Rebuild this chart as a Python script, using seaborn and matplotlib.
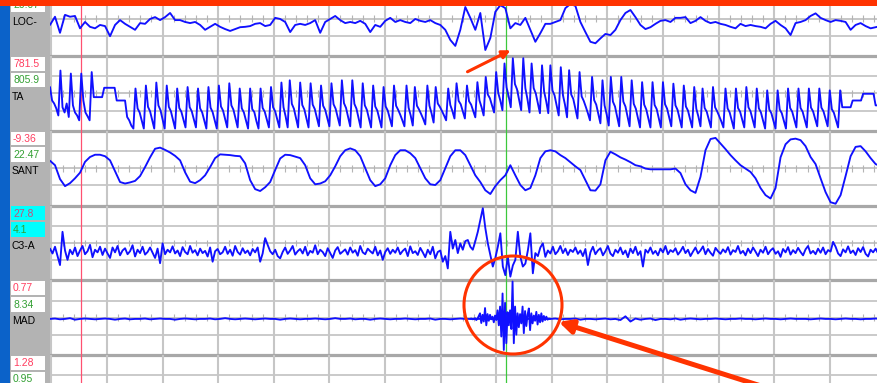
import numpy as np
import pandas as pd
import matplotlib.pyplot as plt
import seaborn as sns
from matplotlib.patches import Rectangle, Ellipse

sns.set_theme(style='white')
plt.rcParams['font.family'] = ['Liberation Sans', 'DejaVu Sans']

# Channel names and the two calibration numbers shown beside each trace
channels = ['LOC-', 'TA', 'SANT', 'C3-A', 'MAD', '']
upper_vals = ['', '781.5', '-9.36', '27.8', '0.77', '1.28']
lower_vals = ['20.07', '805.9', '22.47', '4.1', '8.34', '0.95']

# page time in seconds (grid every 1 s, small ticks every 0.2 s)
t_start = -0.025
t_end = 14.85
red_cursor = 0.53
green_cursor = 8.18

# traces in display units: +-100 = half a channel row
loc_dt = 0.09
loc = [-17, 5, -38, 10, 5, 7, -26, -9, -22, -26,
       -17, -20, -47, -17, -4, -14, -22, -30, -12, -14,
       -1, 4, -4, 4, 15, -4, -4, -9, -12, -9,
       -17, -30, -22, -14, -22, -28, -33, -28, -23, -22,
       -20, -14, -12, -20, -17, 2, -1, -9, -36, -17,
       -14, -17, -12, -4, -38, -9, -1, 7, -4, -12,
       -9, -12, -6, -14, -36, -17, -22, -6, 2, -9,
       -4, -9, -12, -1, -6, -9, -4, -12, -17, -30,
       -57, -73, -30, 31, 2, -30, 15, -84, -52, 18,
       36, 28, -26, -12, -17, 2, -30, -62, -39, -14,
       -14, -9, -4, 28, 39, 34, -9, -36, -62, -66,
       -53, -41, -44, -30, -4, 15, 23, 4, -17, -28,
       -23, -14, -6, -4, -9, 2, 2, 4, -12, -6,
       4, -6, -12, -9, -14, -17, -22, -26, -14, -20,
       -17, -20, -22, -26, -14, -6, -17, -26, -44, -12,
       -9, -4, 7, 14, 2, -4, -9, -4, -6, -9,
       -30, -17, -12, -20, -26, -23, -20]

ta_dt = 0.0375
ta = [17, -19, -27, -40, -59, 61, -37, -51, -27, -63,
      53, -32, -51, -59, -72, 53, -19, -51, -61, -72,
      57, -10, -10, -10, -10, -10, 15, 15, 15, 15, 15, 15,
      -19, -19, -19, -19, -19, -63, -72, -86, -94,
      13, -40, -51, -73, -94, 21, -36, -48, -71, -94,
      29, -32, -45, -69, -94, 21, -36, -48, -71, -94,
      13, -39, -49, -70, -91, 17, -37, -48, -69, -91,
      13, -40, -51, -73, -94, 17, -38, -50, -72, -94,
      21, -35, -46, -69, -91, 27, -32, -44, -67, -91,
      13, -40, -51, -73, -94, 13, -42, -50, -74, -94,
      13, -39, -49, -70, -91, 17, -37, -48, -69, -91,
      29, -37, -61, -91, 35, -28, -41, -66, -91,
      29, -31, -43, -67, -91, 27, -30, -42, -65, -88,
      21, -33, -44, -66, -88, 27, -29, -41, -63, -86,
      35, -26, -39, -63, -88, 35, -28, -41, -66, -91,
      27, -32, -44, -67, -91, 21, -35, -46, -69, -91,
      17, -35, -46, -67, -88, 21, -33, -44, -57, -72, -88,
      21, -38, -59, -86, 17, -33, -43, -55, -68, -83,
      21, -33, -53, -78, 17, -27, -36, -47, -59, -72,
      13, -31, -47, -67, 27, -20, -29, -48, -67,
      21, -21, -30, -47, -64, 30, -19, -37, -59,
      44, -3, -13, -32, -51, 57, 1, -19, -45,
      80, 16, -8, -37, 94, 25, 11, -17, -45,
      94, 14, -15, -51, 80, 14, 0, -26, -53,
      75, 5, -21, -53, 75, 8, -5, -32, -59,
      70, -4, -30, -64, 62, -3, -15, -41, -67,
      57, -8, -20, -36, -53, -72, 44, -18, -30, -55, -80,
      35, -32, -56, -86, 44, -22, -35, -62, -88,
      44, -22, -35, -62, -88, 35, -28, -41, -66, -91,
      30, -30, -43, -67, -91, 30, -31, -42, -67, -91,
      30, -29, -41, -64, -88, 26, -32, -44, -68, -91,
      21, -35, -46, -69, -91, 17, -41, -62, -88,
      13, -39, -49, -70, -91, 17, -37, -48, -61, -75, -91,
      13, -40, -51, -73, -94, 13, -39, -49, -70, -91,
      17, -37, -48, -69, -91, 13, -40, -51, -73, -94,
      8, -43, -53, -74, -94, 8, -43, -53, -74, -94,
      13, -39, -49, -70, -91, 13, -39, -49, -70, -91,
      13, -38, -48, -68, -88, 13, -38, -48, -68, -88,
      8, -42, -52, -71, -91,
      8, -37, -37, -37, -37, -37, -19, -19, -19, -19, -19,
      -1, -1, -1, -1, -1, -1, -32, -32, -32]

sant_dt = 0.09
sant = [20, 8, -29, -48, -40, -27, -12, 17, 30, 36,
        36, 32, 21, -8, -37, -41, -38, -34, -21, 3,
        29, 52, 55, 49, 42, 33, 21, -11, -36, -40,
        -32, -19, 3, 27, 37, 36, 35, 33, 32, 13,
        -32, -56, -61, -51, -37, -5, 26, 36, 35, 31,
        27, 8, -27, -43, -41, -35, -19, 5, 32, 48,
        53, 48, 32, 0, -32, -48, -43, -27, 8, 35,
        48, 48, 40, 27, 0, -27, -43, -45, -32, 0,
        32, 48, 48, 35, 8, -19, -37, -59, -69, -48,
        -32, -19, 8, -19, -45, -59, -53, -19, 27, 45,
        48, 45, 35, 27, 16, 5, -5, -32, -59, -60,
        -43, 21, 44, 37, 29, 23, 16, 8, 5, -1,
        -3, -3, -3, -3, -3, -1, -13, -43, -59, -66,
        -23, 48, 78, 81, 66, 51, 35, 21, 8, -1,
        -10, -27, -53, -72, -81, -53, 29, 64, 77, 79,
        75, 59, 30, 11, -27, -64, -91, -95, -72, -21,
        32, 57, 59, 45, 27, 11, 5]

c3a_dt = 0.045
c3a = [-15, -28, -10, -35, -59, 30, -20, -45, -18, -30,
       -12, -35, -20, -8, -30, -22, -5, -38, -18, -25,
       -10, -32, -15, -28, -40, -12, -25, -8, -33, -20,
       -14, -30, -22, -6, -36, -18, -27, -10, -31, -24,
       -12, -26, -40, -15, -54, -1, -30, -18, -25, -9,
       -28, -20, -35, -11, -24, -30, -8, -26, -19, -33,
       -15, -27, -21, -36, -12, -50, -22, -16, -30, -25,
       -10, -29, -18, -34, -8, -24, -31, -14, -27, -20,
       -33, -16, -25, -12, -50, -28, 13, -5, -22, -30,
       -18, -35, -41, -24, -12, -29, -20, -8, -31, -22,
       -16, -28, -10, -33, -21, -26, -6, -30, -18, -24,
       -35, -14, -27, -40, -20, -11, -29, -23, -17, -31,
       -12, -26, -19, -34, -8, -25, -30, -15, -22, -28,
       -10, -33, -20, -45, -24, -14, -29, -18, -26, -12,
       -30, -21, -15, -35, -9, -27, -22, -32, -13, -25,
       -38, -18, -30, -10, -41, -24, -20, -50, -35, -68,
       30, -15, 8, -27, -1, -18, 5, 8, -10, -18,
       5, 30, 61, 93, 40, -1, -32, -63, -40, -10,
       26, -63, -86, -37, -90, -60, -45, 30, -37, -63,
       -55, -20, 26, -81, -27, -35, -12, -1, -37, -20,
       -28, -10, -30, -22, -8, -27, -15, -32, -18, -24,
       -12, -29, -20, -35, -16, -59, -25, -10, -30, -20,
       -14, -33, -22, -8, -28, -35, -18, -26, -12, -30,
       -20, -38, -15, -27, -10, -32, -22, -63, -18, -26,
       -12, -29, -21, -33, -15, -25, -8, -30, -19, -24,
       -14, -31, -22, -10, -27, -18, -35, -23, -12, -28,
       -20, -9, -30, -16, -26, -34, -13, -22, -29, -17,
       -25, -11, -31, -19, -24, -8, -28, -21, -33, -15,
       -27, -12, -23, -35, -18, -26, -10, -30, -20, -14,
       -29, -22, -37, -16, -25, -11, -31, -19, -27, -13,
       -24, -33, -17, -8, -28, -21, -30, -15, -26, -12,
       -30, -19, -23, 3, -10, -28, -35, -17, -25, -9,
       -27, -20, -32, -14, -24, -11, -29, -36, -18, -25,
       -15, -28, -20]

mad_dt = 0.09
mad = [-3, -2, -4, -3, -1, -5, -3, -2, -3, -4,
       -3, -2, -3, -5, -3, -2, -4, -3, -3, -2,
       -4, -3, -2, -3, -3, -5, -3, -2, -3, -4,
       -3, -3, -2, -4, -3, -1, -3, -4, -3, -2,
       -3, -4, -3, -2, -3, -3, -5, -3, -2, -3,
       -4, -3, -3, -2, -3, -4, -3, -1, -3, -3,
       -2, -4, -3, -3, -5, -3, -2, -3, -4, -3,
       -3, -2, -3, -4, -3, -3, -2, -5, -3, -3,
       -4, -3, -2, -3, -3, -3, -3, -3, -3, -3,
       -3, -3, -3, -3, -3, -3, -3, -3, -3, -3,
       -3, -2, -4, -3, -3, -2, -5, -3, -3, -4,
       -3, -2, -4, -3, -6, 4, -10, -2, -5, -3,
       -2, -6, -3, -3, -4, -2, -5, -3, -2, -3,
       -4, -3, -3, -2, -3, -4, -3, -3, -2, -3,
       -3, -4, -3, -2, -3, -3, -4, -3, -2, -3,
       -3, -3, -4, -3, -2, -3, -3, -4, -3, -2,
       -3, -3, -4, -3, -3, -2, -3]

# movement burst on MAD, finer sampling
mad_burst_t0 = 7.53
mad_burst_dt = 0.0225
mad_burst = [-3, -2, -4, -3, -1, -6, -2, 5, 12, -14,
             8, -10, 26, -20, 10, -8, 8, -4, 3, -12,
             6, -6, 20, -20, 30, -50, 65, -86, 40, -68,
             15, -20, 20, -30, 97, -68, 30, -45, 12, -25,
             10, -15, 30, -41, 18, -22, 8, 25, -33, 12,
             -15, 6, -8, 16, -18, 8, -12, 12, -10, 5,
             -6, 3, -5, -2, -3]

signals = {'LOC-': [(loc, loc_dt, t_start)],
           'TA': [(ta, ta_dt, t_start)],
           'SANT': [(sant, sant_dt, t_start)],
           'C3-A': [(c3a, c3a_dt, t_start)],
           'MAD': [(mad, mad_dt, t_start), (mad_burst, mad_burst_dt, mad_burst_t0)],
           '': []}

# layout in pixels
W, H = 877, 383
row_h = 74.8
row_tops = [-18.8, 56.0, 130.8, 205.6, 280.4, 355.2]
plot_left = 50
grid_col = '#c6c6c6'
trace_col = '#1010ff'
mark_col = '#ff3300'

fig = plt.figure(figsize=(W / 100, H / 100), dpi=100)
fig.patch.set_facecolor('white')

minor = [m / 5 for m in range(75) if m % 5]
for top, name in zip(row_tops, channels):
    ax = fig.add_axes([plot_left / W, 1 - (top + row_h) / H,
                       (W - plot_left) / W, row_h / H], zorder=1)
    ax.axis('off')
    for s in range(15):
        ax.axvline(s, color=grid_col, lw=1.5, zorder=1)
    for yy in (46, -46):
        ax.axhline(yy, color=grid_col, lw=1.3, zorder=1)
    ax.axhline(0, color='#bcbcbc', lw=1.2, zorder=1)
    ax.vlines(minor, -9, 9, color='#b4b4b4', lw=0.8, zorder=1)
    ax.axhline(-100, color='#a8a8a8', lw=2.3, zorder=2, clip_on=False)
    for vals, dt, t0 in signals[name]:
        df = pd.DataFrame({'t': t0 + dt * np.arange(len(vals)), 'v': vals})
        sns.lineplot(data=df, x='t', y='v', ax=ax, color=trace_col,
                     linewidth=1.35, estimator=None, sort=False, legend=False, zorder=4)
    ax.axvline(red_cursor, color='#ff5070', lw=0.9, zorder=3)
    ax.axvline(green_cursor, color='#3cc83c', lw=0.9, zorder=3)
    ax.set_xlim(t_start, t_end)
    ax.set_ylim(-100, 100)

# overlay in pixel units: side panel, labels and the red markings
ov = fig.add_axes([0, 0, 1, 1], zorder=5)
ov.set_xlim(0, W)
ov.set_ylim(H, 0)
ov.axis('off')
ov.add_patch(Rectangle((0, 0), 9.5, H, color='#0b62c9', lw=0))
ov.add_patch(Rectangle((9.5, 0), plot_left - 9.5, H, color='#b3b3b3', lw=0))

for top, name, up, lo in zip(row_tops, channels, upper_vals, lower_vals):
    cyan = name == 'C3-A'
    fc = '#00ffff' if cyan else 'white'
    if up:
        ov.add_patch(Rectangle((11, top + 0.8), 34, 13.8, fc=fc, lw=0))
        ov.text(13, top + 8, up, color='#cc4a78' if cyan else '#ff3d5f',
                fontsize=7.5, va='center', ha='left')
    ov.add_patch(Rectangle((11, top + 16.5), 34, 14.8, fc=fc, lw=0))
    ov.text(13, top + 24.2, lo, color='#33a033', fontsize=7.5, va='center', ha='left')
    if name:
        ov.text(12, top + 40.5, name, color='black', fontsize=7.5, va='center', ha='left')

ov.add_patch(Rectangle((0, 0), W, 6, color=mark_col, lw=0, zorder=10))
ov.annotate('', xy=(513, 49), xytext=(465, 73),
            arrowprops=dict(arrowstyle='-|>', color=mark_col, lw=2.2, mutation_scale=12))
ov.add_patch(Ellipse((513, 305), 98, 98, fill=False, ec=mark_col, lw=2.2, zorder=6))
ov.annotate('', xy=(556, 321), xytext=(780, 392),
            arrowprops=dict(arrowstyle='-|>', color=mark_col, lw=3.6, mutation_scale=20))

fig.savefig('out.png', dpi=100)
